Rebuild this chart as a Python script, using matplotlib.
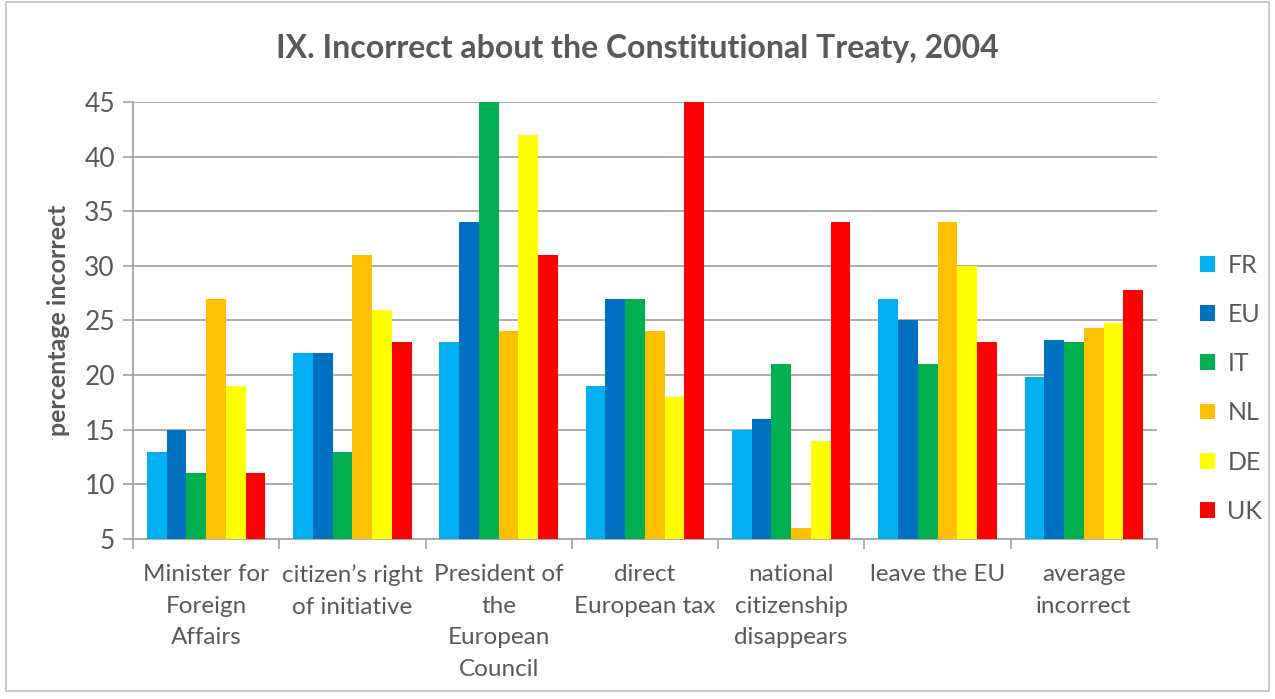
import numpy as np
import matplotlib
matplotlib.use("Agg")
import matplotlib.pyplot as plt
from matplotlib.patches import Rectangle

plt.rcParams['font.family'] = ['Lato', 'DejaVu Sans']

categories = ["Minister for\nForeign\nAffairs", "citizen\u2019s right\nof initiative",
              "President of\nthe\nEuropean\nCouncil", "direct\nEuropean tax",
              "national\ncitizenship\ndisappears", "leave the EU", "average\nincorrect"]
countries = ["FR", "EU", "IT", "NL", "DE", "UK"]
colors = ["#00B0F0", "#0070C0", "#00B050", "#FFC000", "#FFFF00", "#FF0000"]

fr = [13, 22, 23, 19, 15, 27, 19.8]
eu = [15, 22, 34, 27, 16, 25, 23.2]
it = [11, 13, 45, 27, 21, 21, 23.0]
nl = [27, 31, 24, 24, 6, 34, 24.3]
de = [19, 26, 42, 18, 14, 30, 24.8]
uk = [11, 23, 31, 45, 34, 23, 27.8]
series = [fr, eu, it, nl, de, uk]

grey = "#595959"
axcol = "#A6A6A6"

fig = plt.figure(figsize=(12.75, 6.99), dpi=100)
fig.patches.append(Rectangle((0.005, 0.012), 0.99, 0.985, transform=fig.transFigure,
                             fill=False, edgecolor="#BFBFBF", linewidth=1.2))
ax = fig.add_axes([0.1043, 0.2289, 0.8031, 0.6252])

x = np.arange(len(categories))
w = 0.135
for i, (vals, c, name) in enumerate(zip(series, colors, countries)):
    ax.bar(x + (i - 2.5) * w, np.array(vals) - 5, bottom=5, width=w, color=c,
           label=name, zorder=3)

ax.set_ylim(5, 45)
ax.set_xlim(-0.5, len(categories) - 0.5)
ax.set_yticks(range(5, 46, 5))
ax.yaxis.grid(True, color=axcol, linewidth=1.3, zorder=0)
ax.set_xticks(np.arange(-0.5, len(categories), 1))
ax.set_xticklabels([])
ax.set_xticks(x, minor=True)
ax.set_xticklabels(categories, minor=True, fontsize=17.5, color=grey, linespacing=1.63)
ax.tick_params(axis='x', which='minor', length=0, pad=18)
ax.tick_params(axis='x', which='major', length=7, color=axcol, width=1.3)
ax.tick_params(axis='y', length=7, color=axcol, width=1.3, labelsize=19, labelcolor=grey, pad=6)
for s in ['top', 'right']:
    ax.spines[s].set_visible(False)
for s in ['left', 'bottom']:
    ax.spines[s].set_color(axcol)
    ax.spines[s].set_linewidth(1.3)

ax.set_ylabel("percentage incorrect", fontsize=18, fontweight='bold', color=grey, labelpad=10)
fig.text(0.5, 0.931, "IX. Incorrect about the Constitutional Treaty, 2004", ha='center', va='center',
         fontsize=23, fontweight='bold', color=grey)

leg = ax.legend(loc='center left', bbox_to_anchor=(1.02, 0.345), frameon=False, fontsize=18,
                handlelength=0.6, handleheight=0.6, labelspacing=1.05, handletextpad=0.5)
for t in leg.get_texts():
    t.set_color(grey)

fig.savefig("out.png", dpi=100)
